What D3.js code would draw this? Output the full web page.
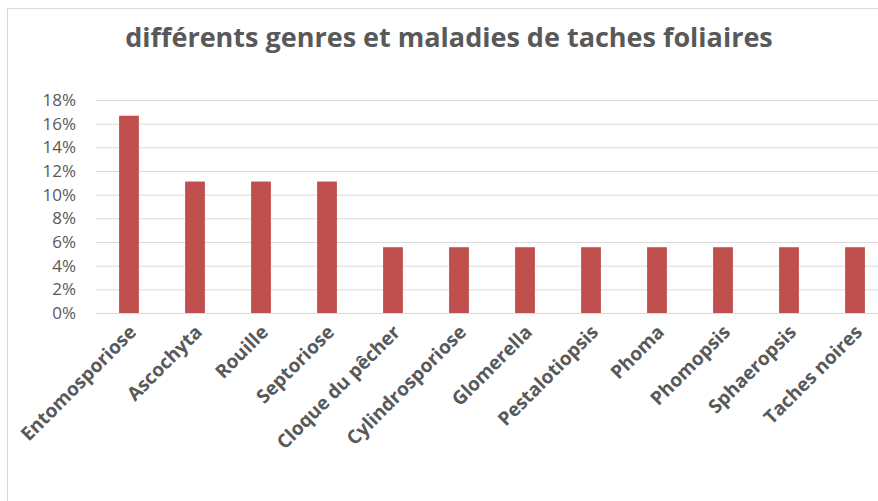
<!DOCTYPE html>
<html>
<head>
<meta charset="utf-8">
<script src="https://cdn.jsdelivr.net/npm/d3@7"></script>
<style>
body { margin: 0; background: #fff; }
</style>
</head>
<body>
<div id="chart"></div>
<script>
// data
var categories = ["Entomosporiose", "Ascochyta", "Rouille", "Septoriose", "Cloque du pêcher",
    "Cylindrosporiose", "Glomerella", "Pestalotiopsis", "Phoma", "Phomopsis", "Sphaeropsis", "Taches noires"];
var values = [0.1667, 0.1111, 0.1111, 0.1111, 0.0556, 0.0556, 0.0556, 0.0556, 0.0556, 0.0556, 0.0556, 0.0556];
var yTicks = [0, 0.02, 0.04, 0.06, 0.08, 0.10, 0.12, 0.14, 0.16, 0.18];
var title = "différents genres et maladies de taches foliaires";

var width = 878, height = 501;
var plotLeft = 96, plotRight = 888, plotTop = 100, plotBottom = 313;

var svg = d3.select("#chart").append("svg").attr("width", width).attr("height", height);

// chart frame (cut off at right and bottom in the picture)
svg.append("rect").attr("x", 7.5).attr("y", 8.5).attr("width", 900).attr("height", 520)
    .attr("fill", "#fff").attr("stroke", "#d9d9d9");

svg.append("text").attr("x", 449).attr("y", 47)
    .attr("text-anchor", "middle")
    .attr("font-family", "Open Sans").attr("font-weight", "bold").attr("font-size", 27)
    .attr("fill", "#595959")
    .text(title);

var x = d3.scaleBand().domain(categories).range([plotLeft, plotRight]).paddingInner(0.7).paddingOuter(0.35);
var y = d3.scaleLinear().domain([0, 0.18]).range([plotBottom, plotTop]);

var yAxis = d3.axisLeft(y).tickValues(yTicks).tickFormat(d3.format(".0%")).tickSize(-(plotRight - plotLeft)).tickPadding(20);
var gy = svg.append("g").attr("transform", "translate(" + plotLeft + ",0)").call(yAxis);
gy.select(".domain").remove();
gy.selectAll(".tick line").attr("stroke", "#d9d9d9");
gy.selectAll(".tick text").attr("font-family", "Open Sans").attr("font-size", 17).attr("fill", "#595959");

svg.selectAll(".bar").data(values).enter().append("rect")
    .attr("class", "bar")
    .attr("x", function(d, i) { return x(categories[i]); })
    .attr("y", function(d) { return y(d); })
    .attr("width", x.bandwidth())
    .attr("height", function(d) { return y(0) - y(d); })
    .attr("fill", "#c0504d");

var xAxis = d3.axisBottom(x).tickSize(0).tickPadding(0);
var gx = svg.append("g").attr("transform", "translate(0," + plotBottom + ")").call(xAxis);
gx.select(".domain").attr("stroke", "#d9d9d9");
gx.selectAll(".tick text")
    .attr("font-family", "Open Sans").attr("font-weight", "bold").attr("font-size", 19)
    .attr("fill", "#595959")
    .attr("text-anchor", "end")
    .attr("dy", "0.7em")
    .attr("transform", "translate(-1,11) rotate(-45)");
</script>
</body>
</html>
